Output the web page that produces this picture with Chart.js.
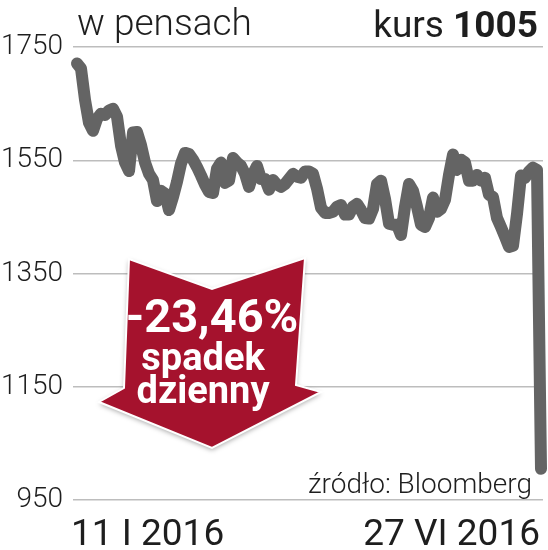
<!DOCTYPE html>
<html>
<head>
<meta charset="utf-8">
<script src="https://cdn.jsdelivr.net/npm/chart.js@4"></script>
<style>
  html, body { margin: 0; padding: 0; background: #fff; }
  #wrap { width: 548px; height: 550px; }
</style>
</head>
<body>
<div id="wrap"><canvas id="kursChart" width="548" height="550"></canvas></div>
<script>
// kurs w pensach, 11 I 2016 - 27 VI 2016
const prices = [
    1721, 1712, 1657, 1616, 1602, 1623, 1632, 1630, 1638, 1641,
    1627, 1576, 1546, 1531, 1599, 1600, 1577, 1546, 1526, 1515,
    1478, 1496, 1491, 1462, 1485, 1512, 1544, 1563, 1561, 1551,
    1538, 1523, 1507, 1494, 1492, 1535, 1546, 1510, 1514, 1554,
    1546, 1540, 1526, 1503, 1526, 1540, 1517, 1517, 1498, 1515,
    1507, 1503, 1508, 1517, 1526, 1521, 1519, 1530, 1530, 1526,
    1500, 1466, 1457, 1457, 1459, 1468, 1471, 1454, 1454, 1468,
    1473, 1462, 1448, 1447, 1464, 1508, 1514, 1482, 1438, 1436,
    1436, 1418, 1468, 1508, 1496, 1468, 1436, 1432, 1448, 1484,
    1459, 1464, 1480, 1524, 1560, 1533, 1551, 1546, 1514, 1514,
    1524, 1514, 1519, 1489, 1485, 1448, 1432, 1415, 1397, 1399,
    1455, 1523, 1519, 1530, 1537, 1533, 1005
];
const dateLabels = ['11 I 2016', '27 VI 2016'];
const yTicks = [950, 1150, 1350, 1550, 1750];
const unitText = 'w pensach';
const closeLabel = 'kurs';
const closeValue = '1005';
const dropText = ['-23,46%', 'spadek', 'dzienny'];
const sourceText = 'źródło: Bloomberg';

const FONT = 'Roboto, "Liberation Sans", sans-serif';
const TEXT = '#1e1e1e';

const extras = {
    id: 'extras',
    afterDraw(chart) {
        const ctx = chart.ctx;
        const x = chart.scales.x;
        ctx.save();
        ctx.fillStyle = TEXT;
        ctx.textBaseline = 'alphabetic';

        // naglowek
        ctx.font = '300 37px ' + FONT;
        ctx.textAlign = 'left';
        ctx.fillText(unitText, 77, 35);

        ctx.font = 'bold 37px ' + FONT;
        const wVal = ctx.measureText(closeValue).width;
        ctx.textAlign = 'right';
        ctx.fillText(closeValue, 538, 37);
        ctx.font = '37px ' + FONT;
        ctx.fillText(closeLabel + ' ', 538 - wVal, 37);

        // daty
        ctx.font = '37px ' + FONT;
        ctx.textAlign = 'left';
        ctx.fillText(dateLabels[0], x.getPixelForValue(0) - 6, 545);
        ctx.textAlign = 'right';
        ctx.fillText(dateLabels[1], x.getPixelForValue(prices.length - 1) - 1, 545);

        // zrodlo
        ctx.font = '300 28px ' + FONT;
        ctx.fillText(sourceText, 532, 493);

        // strzalka
        ctx.beginPath();
        ctx.moveTo(129, 259);
        ctx.lineTo(212, 289);
        ctx.lineTo(305, 258);
        ctx.lineTo(296, 385);
        ctx.lineTo(321, 392);
        ctx.lineTo(212, 448);
        ctx.lineTo(99, 402);
        ctx.lineTo(124, 388);
        ctx.closePath();
        ctx.shadowColor = 'rgba(0,0,0,0.35)';
        ctx.shadowBlur = 5;
        ctx.shadowOffsetY = 2;
        ctx.fillStyle = '#a5122d';
        ctx.fill();
        ctx.shadowColor = 'transparent';
        ctx.lineWidth = 2;
        ctx.strokeStyle = '#fff';
        ctx.stroke();

        ctx.fillStyle = '#fff';
        ctx.textAlign = 'center';
        ctx.font = 'bold 47px ' + FONT;
        ctx.fillText(dropText[0], 212, 332);
        ctx.font = 'bold 38px ' + FONT;
        ctx.fillText(dropText[1], 203, 370);
        ctx.fillText(dropText[2], 203, 403);
        ctx.restore();
    }
};

const ctx = document.getElementById('kursChart').getContext('2d');
const kursChart = new Chart(ctx, {
    type: 'line',
    data: {
        datasets: [{
            data: prices.map((v, i) => ({ x: i, y: v })),
            borderColor: '#646464',
            borderWidth: 12,
            borderCapStyle: 'round',
            borderJoinStyle: 'round',
            pointRadius: 0,
            tension: 0,
            clip: false
        }]
    },
    options: {
        responsive: false,
        animation: false,
        layout: { padding: { top: 47, bottom: 50, left: 0, right: 5 } },
        plugins: { legend: { display: false }, tooltip: { enabled: false } },
        scales: {
            x: {
                type: 'linear',
                min: -1,
                max: prices.length - 0.5,
                display: false
            },
            y: {
                min: yTicks[0],
                max: yTicks[yTicks.length - 1],
                afterFit(scale) { scale.width = 73; },
                afterBuildTicks(scale) { scale.ticks = yTicks.map(v => ({ value: v })); },
                border: { display: false },
                grid: { color: '#bdbdbd', lineWidth: 1.5, drawTicks: false },
                ticks: {
                    padding: 10,
                    color: TEXT,
                    font: { family: FONT, size: 28, weight: '300' },
                    callback: (v) => String(v)
                }
            }
        }
    },
    plugins: [extras]
});
</script>
</body>
</html>
